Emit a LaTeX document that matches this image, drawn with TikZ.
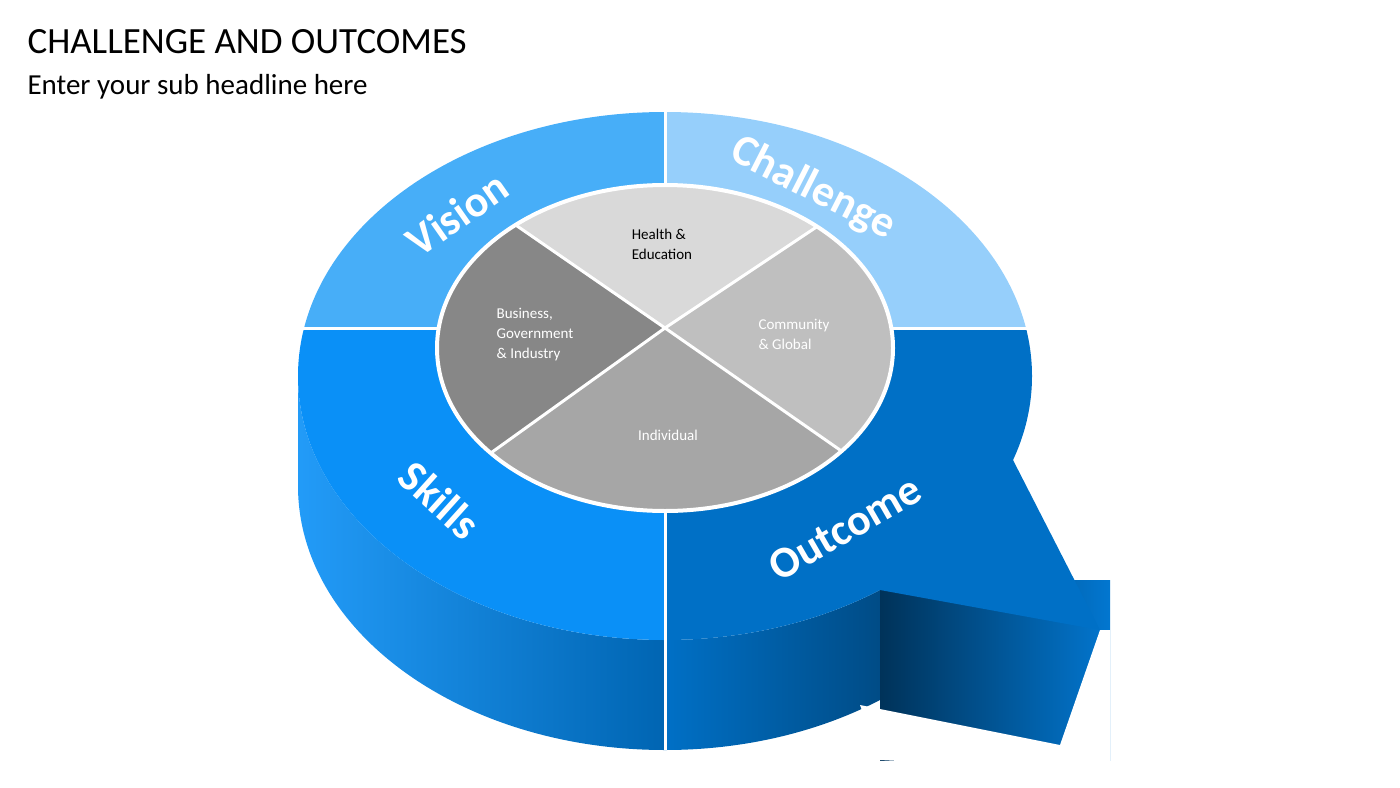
\documentclass[tikz,border=0pt]{standalone}
\usepackage{fontspec}
\setmainfont{Carlito}
\definecolor{cvision}{HTML}{47AEF8}
\definecolor{cchal}{HTML}{96CFFB}
\definecolor{cskills}{HTML}{0A90F7}
\definecolor{cout}{HTML}{0070C6}
\definecolor{chealth}{HTML}{D9D9D9}
\definecolor{ccomm}{HTML}{BFBFBF}
\definecolor{cind}{HTML}{A6A6A6}
\definecolor{cbus}{HTML}{878787}
\tikzset{
  big/.style={text=white,font=\bfseries\fontsize{44}{44}\selectfont},
  small/.style={align=left,font=\fontsize{15}{20}\selectfont},
  divider/.style={white,line width=3pt},
  ell/.style={x radius=367,y radius=264},
  tailshade/.style={left color=cout!45!black,right color=cout!80!cskills}
}
\begin{document}
\begin{tikzpicture}[x=1pt,y=-1pt]
\useasboundingbox (0,0) rectangle (1400,787);
% sides
\shade[left color=cskills!90!white,right color=cout!90!black]
  (298,376) -- (298,486) arc[start angle=180,end angle=90,ell] -- (665,640) arc[start angle=90,end angle=180,ell] -- cycle;
\begin{scope}
\clip (665,376) rectangle (880,760);
\shade[left color=cout,right color=cout!45!black]
  (665,750) arc[start angle=90,end angle=0,ell] -- (1032,376) arc[start angle=0,end angle=90,ell] -- cycle;
\end{scope}
\begin{scope}
\clip (880,376) rectangle (1110,760);
\shade[tailshade] (880,580) rectangle (1110,760);
\end{scope}
\begin{scope}
\clip (880,376) rectangle (1110,760);
\clip (665,750) arc[start angle=90,end angle=0,ell] -- (1032,376) -- (1110,376) -- (1110,760) -- (880,760) -- cycle;
\end{scope}
\fill[white] (1032,760) -- (1060,745) -- (1100,630) -- (1110,630) -- (1110,770) -- cycle;
\fill[white] (880,760) -- (860,705) -- (1060,745) -- (1070,770) -- cycle;
% top faces
\begin{scope}\clip (290,100) rectangle (665,328);
\fill[cvision] (665,376) ellipse [ell];\end{scope}
\begin{scope}\clip (665,100) rectangle (1040,328);
\fill[cchal] (665,376) ellipse [ell];\end{scope}
\begin{scope}\clip (290,328) rectangle (665,650);
\fill[cskills] (665,376) ellipse [ell];\end{scope}
\begin{scope}\clip (665,328) rectangle (1040,650);
\fill[cout] (665,376) ellipse [ell];\end{scope}
\fill[cout] (1013,460) -- (1100,630) -- (880,590) -- (900,460) -- cycle;
\draw[divider] (665,112) -- (665,750);
\draw[divider] (298,328) -- (1032,328);
% inner pie
\coordinate (c) at (665,328);
\coordinate (TL) at (230,28);
\coordinate (TR) at (1115,28);
\coordinate (BR) at (1190,694);
\coordinate (BL) at (155,694);
\begin{scope}
\clip (665,348) ellipse [x radius=228,y radius=163];
\fill[chealth] (c) -- (TL) -- (TR) -- cycle;
\fill[ccomm] (c) -- (TR) -- (1220,28) -- (1220,694) -- (BR) -- cycle;
\fill[cind] (c) -- (BR) -- (BL) -- cycle;
\fill[cbus] (c) -- (BL) -- (120,694) -- (120,28) -- (TL) -- cycle;
\draw[divider] (c) -- (TL) (c) -- (TR) (c) -- (BR) (c) -- (BL);
\end{scope}
\draw[white,line width=4pt] (665,348) ellipse [x radius=228,y radius=163];
% texts
\node[anchor=west,font=\fontsize{37}{37}\selectfont] (title) at (24,42) {CHALLENGE AND OUTCOMES};
\node[anchor=west,font=\fontsize{29}{29}\selectfont] (sub) at (24,87) {Enter your sub headline here};
\node[big,rotate=35] (vis) at (457,214) {Vision};
\node[big,rotate=-27] (cha) at (813,189) {Challenge};
\node[big,rotate=-42] (ski) at (440,500) {Skills};
\node[big,rotate=30] (out) at (845,528) {Outcome};
\node[small] (h) at (662,244) {Health \&\\Education};
\node[small,text=white] (cm) at (794,334) {Community\\\& Global};
\node[small,text=white] (b) at (535,335) {Business,\\Government\\\& Industry};
\node[small,text=white] (i) at (668,435) {Individual};
\end{tikzpicture}
\end{document}
